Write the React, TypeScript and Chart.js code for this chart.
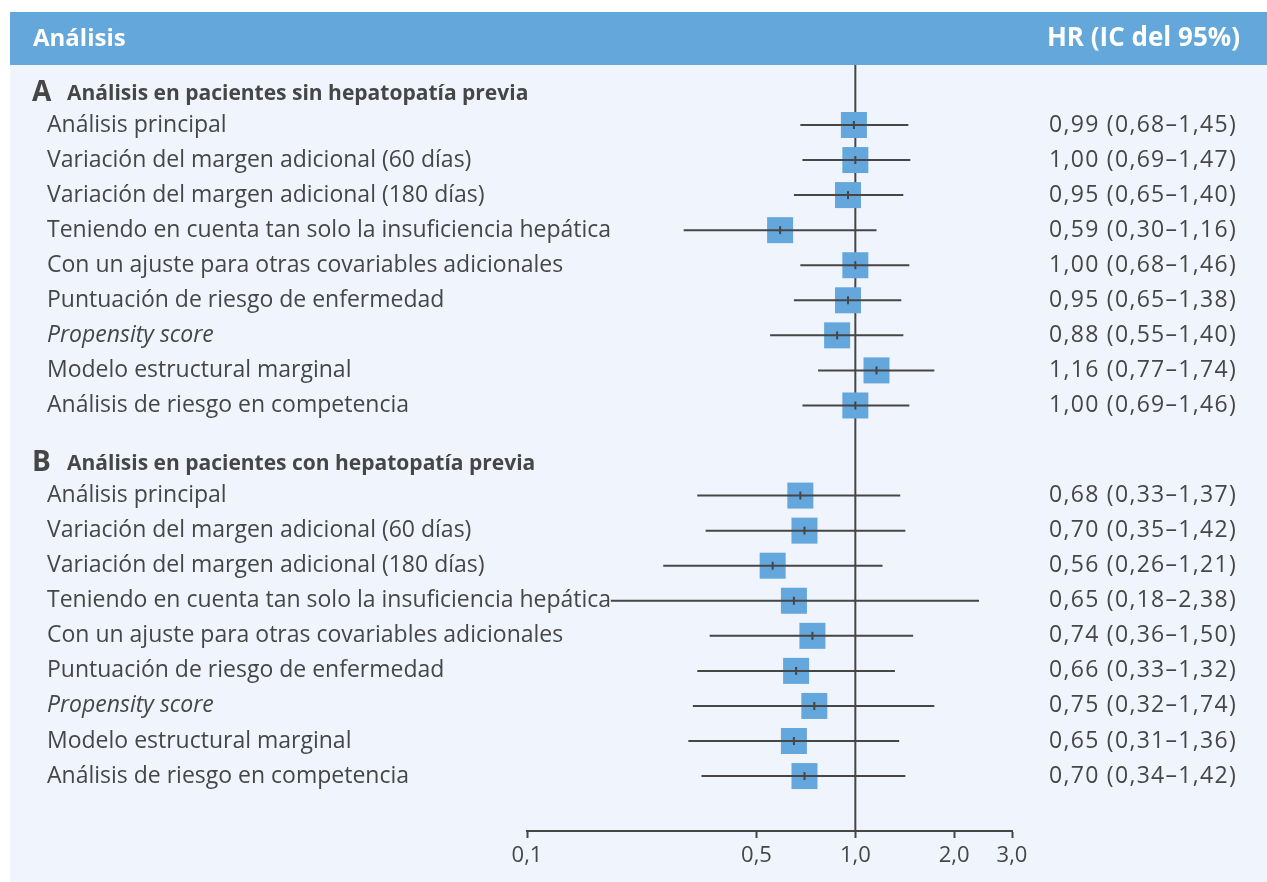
import React, { useEffect, useRef } from "react";
import { Chart, registerables } from "chart.js";

Chart.register(...registerables);

// ---------- data ----------
const HEADER_LEFT = "Análisis";
const HEADER_RIGHT = "HR (IC del 95%)";

const GROUP_LETTERS = ["A", "B"];
const GROUP_TITLES = [
  "Análisis en pacientes sin hepatopatía previa",
  "Análisis en pacientes con hepatopatía previa",
];

const ROW_LABELS = [
  "Análisis principal",
  "Variación del margen adicional (60 días)",
  "Variación del margen adicional (180 días)",
  "Teniendo en cuenta tan solo la insuficiencia hepática",
  "Con un ajuste para otras covariables adicionales",
  "Puntuación de riesgo de enfermedad",
  "Propensity score",
  "Modelo estructural marginal",
  "Análisis de riesgo en competencia",
];
const ROW_ITALIC = [false, false, false, false, false, false, true, false, false];

const HR_A = [0.99, 1.0, 0.95, 0.59, 1.0, 0.95, 0.88, 1.16, 1.0];
const LO_A = [0.68, 0.69, 0.65, 0.3, 0.68, 0.65, 0.55, 0.77, 0.69];
const HI_A = [1.45, 1.47, 1.4, 1.16, 1.46, 1.38, 1.4, 1.74, 1.46];

const HR_B = [0.68, 0.7, 0.56, 0.65, 0.74, 0.66, 0.75, 0.65, 0.7];
const LO_B = [0.33, 0.35, 0.26, 0.18, 0.36, 0.33, 0.32, 0.31, 0.34];
const HI_B = [1.37, 1.42, 1.21, 2.38, 1.5, 1.32, 1.74, 1.36, 1.42];

const X_TICKS = [0.1, 0.5, 1, 2, 3];
const X_TICK_LABELS = ["0,1", "0,5", "1,0", "2,0", "3,0"];
const REF_VALUE = 1;

// ---------- layout / style ----------
const W = 1267;
const H = 882;
const GROUP_START = [0, 10.57];
const HEADER_OFFSET = -0.92;
const Y_MIN = -1.711;
const Y_MAX = 20.137;

const BG = "#f0f4fc";
const BAND = "#63a7db";
const BOX = "#64a7dd";
const INK = "#464646";
const FONT = "'Open Sans', 'Noto Sans', sans-serif";

const fmt = (v: number) => v.toFixed(2).replace(".", ",");

const GROUPS = [
  { hr: HR_A, lo: LO_A, hi: HI_A },
  { hr: HR_B, lo: LO_B, hi: HI_B },
];

export default function App() {
  const ref = useRef<HTMLCanvasElement | null>(null);

  useEffect(() => {
    const canvas = ref.current;
    if (!canvas) return;

    const boxPts: { x: number; y: number }[] = [];
    const ciSets: any[] = [];
    GROUPS.forEach((g, gi) => {
      g.hr.forEach((v, i) => {
        const y = GROUP_START[gi] + i;
        boxPts.push({ x: v, y });
        ciSets.push({
          type: "line",
          data: [
            { x: g.lo[i], y },
            { x: g.hi[i], y },
          ],
          borderColor: INK,
          borderWidth: 2,
          pointRadius: 0,
          showLine: true,
          order: 2,
        });
      });
    });

    const textPlugin = {
      id: "forestText",
      beforeDraw(chart: any) {
        const ctx = chart.ctx;
        ctx.save();
        ctx.fillStyle = BG;
        ctx.fillRect(10, 12, W - 10, H - 12);
        ctx.fillStyle = BAND;
        ctx.fillRect(10, 12, W - 10, 53);
        ctx.fillStyle = "#ffffff";
        ctx.textBaseline = "middle";
        ctx.font = `bold 24px ${FONT}`;
        ctx.textAlign = "left";
        ctx.fillText(HEADER_LEFT, 33, 39);
        ctx.font = `bold 26px ${FONT}`;
        ctx.textAlign = "right";
        ctx.fillText(HEADER_RIGHT, 1240, 39);
        ctx.restore();
      },
      afterDraw(chart: any) {
        const ctx = chart.ctx;
        const ys = chart.scales.y;
        ctx.save();
        ctx.fillStyle = INK;
        ctx.textBaseline = "middle";
        GROUPS.forEach((g, gi) => {
          const hy = ys.getPixelForValue(GROUP_START[gi] + HEADER_OFFSET);
          ctx.textAlign = "left";
          ctx.font = `bold 28px ${FONT}`;
          ctx.fillText(GROUP_LETTERS[gi], 32, hy);
          ctx.font = `bold 21px ${FONT}`;
          ctx.fillText(GROUP_TITLES[gi], 67, hy + 1);
          g.hr.forEach((v, i) => {
            const y = ys.getPixelForValue(GROUP_START[gi] + i);
            ctx.textAlign = "left";
            ctx.font = `${ROW_ITALIC[i] ? "italic " : ""}23px ${FONT}`;
            (ctx as any).letterSpacing = "0px";
            ctx.fillText(ROW_LABELS[i], 47, y);
            ctx.textAlign = "center";
            ctx.font = `23px ${FONT}`;
            (ctx as any).letterSpacing = "1.3px";
            ctx.fillText(
              `${fmt(v)} (${fmt(g.lo[i])}–${fmt(g.hi[i])})`,
              1143,
              y
            );
            (ctx as any).letterSpacing = "0px";
          });
        });
        ctx.restore();
      },
    };

    const chart = new Chart(canvas, {
      type: "scatter",
      data: {
        datasets: [
          {
            type: "line",
            data: [
              { x: REF_VALUE, y: Y_MIN },
              { x: REF_VALUE, y: Y_MAX },
            ],
            borderColor: INK,
            borderWidth: 2,
            pointRadius: 0,
            showLine: true,
            order: 4,
          } as any,
          {
            data: boxPts,
            pointStyle: "rect",
            pointRadius: 13 / Math.SQRT1_2,
            backgroundColor: BOX,
            borderWidth: 0,
            order: 3,
          } as any,
          ...ciSets,
          {
            data: boxPts,
            pointStyle: "line",
            rotation: 90,
            pointRadius: 4,
            borderColor: INK,
            borderWidth: 2,
            order: 1,
          } as any,
        ],
      },
      options: {
        responsive: false,
        animation: false,
        events: [],
        layout: { padding: { left: 527, right: W - 1012, top: 65, bottom: 0 } },
        plugins: { legend: { display: false }, tooltip: { enabled: false } },
        scales: {
          x: {
            type: "logarithmic",
            position: "bottom",
            min: 0.1,
            max: 3,
            afterBuildTicks: (scale: any) => {
              scale.ticks = X_TICKS.map((v) => ({ value: v }));
            },
            afterFit: (scale: any) => {
              scale.height = H - 831;
            },
            ticks: {
              autoSkip: false,
              maxRotation: 0,
              padding: 5,
              color: INK,
              font: { family: FONT, size: 22 },
              callback: (_v: any, i: number) => X_TICK_LABELS[i],
            },
            grid: {
              drawOnChartArea: false,
              drawTicks: true,
              tickLength: 7,
              tickColor: INK,
              tickWidth: 2,
              color: INK,
            },
            border: { display: true, color: INK, width: 2 },
          },
          y: {
            type: "linear",
            reverse: true,
            min: Y_MIN,
            max: Y_MAX,
            display: false,
          },
        },
      } as any,
      plugins: [textPlugin],
    });

    return () => chart.destroy();
  }, []);

  return (
    <div style={{ position: "absolute", left: 0, top: 0, width: W, height: H }}>
      <canvas ref={ref} width={W} height={H} style={{ width: W, height: H, display: "block" }} />
    </div>
  );
}
